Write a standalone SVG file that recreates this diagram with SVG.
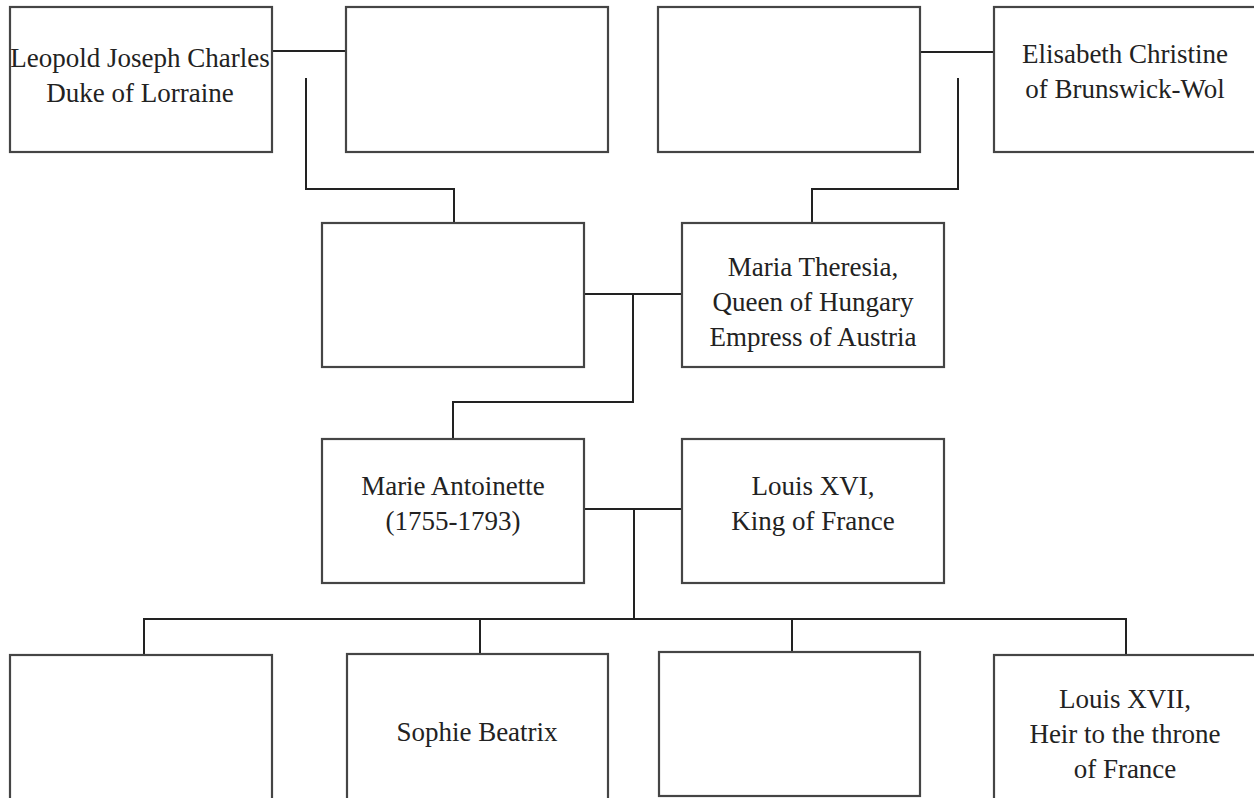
<svg xmlns="http://www.w3.org/2000/svg" width="1254" height="798" viewBox="0 0 1254 798">
  <style>
    .box { fill: #ffffff; stroke: #454545; stroke-width: 2.2; }
    .lbl { font-family: "Liberation Serif", "Times New Roman", serif; font-size: 27px; fill: #222222; text-anchor: middle; }
    .conn { fill: none; stroke: #222222; stroke-width: 2; }
  </style>
  <rect x="0" y="0" width="1254" height="798" fill="#ffffff"/>

  <g id="connectors">
    <path class="conn" d="M272 51 H346"/>
    <path class="conn" d="M306 78 V189 H454 V223"/>
    <path class="conn" d="M920 52 H994"/>
    <path class="conn" d="M958 78 V189 H812 V223"/>
    <path class="conn" d="M584 294 H682"/>
    <path class="conn" d="M633 294 V402 H453 V439"/>
    <path class="conn" d="M584 509 H682"/>
    <path class="conn" d="M634 509 V619"/>
    <path class="conn" d="M144 655 V619 H1126 V655"/>
    <path class="conn" d="M480 619 V654"/>
    <path class="conn" d="M792 619 V652"/>
  </g>

  <g id="leopold">
    <rect class="box" x="10" y="7" width="262" height="145"/>
    <text class="lbl" x="140" y="67">Leopold Joseph Charles</text>
    <text class="lbl" x="140" y="102">Duke of Lorraine</text>
  </g>
  <g id="spouse-leopold">
    <rect class="box" x="346" y="7" width="262" height="145"/>
  </g>
  <g id="father-elisabeth">
    <rect class="box" x="658" y="7" width="262" height="145"/>
  </g>
  <g id="elisabeth">
    <rect class="box" x="994" y="7" width="262" height="145"/>
    <text class="lbl" x="1125" y="63">Elisabeth Christine</text>
    <text class="lbl" x="1125" y="98">of Brunswick-Wol</text>
  </g>

  <g id="francis">
    <rect class="box" x="322" y="223" width="262" height="144"/>
  </g>
  <g id="maria-theresia">
    <rect class="box" x="682" y="223" width="262" height="144"/>
    <text class="lbl" x="813" y="276">Maria Theresia,</text>
    <text class="lbl" x="813" y="311">Queen of Hungary</text>
    <text class="lbl" x="813" y="346">Empress of Austria</text>
  </g>

  <g id="marie-antoinette">
    <rect class="box" x="322" y="439" width="262" height="144"/>
    <text class="lbl" x="453" y="495">Marie Antoinette</text>
    <text class="lbl" x="453" y="530">(1755-1793)</text>
  </g>
  <g id="louis-xvi">
    <rect class="box" x="682" y="439" width="262" height="144"/>
    <text class="lbl" x="813" y="495">Louis XVI,</text>
    <text class="lbl" x="813" y="530">King of France</text>
  </g>

  <g id="child-1">
    <rect class="box" x="10" y="655" width="262" height="160"/>
  </g>
  <g id="sophie-beatrix">
    <rect class="box" x="347" y="654" width="261" height="160"/>
    <text class="lbl" x="477" y="741">Sophie Beatrix</text>
  </g>
  <g id="child-3">
    <rect class="box" x="659" y="652" width="261" height="144"/>
  </g>
  <g id="louis-xvii">
    <rect class="box" x="994" y="655" width="262" height="160"/>
    <text class="lbl" x="1125" y="708">Louis XVII,</text>
    <text class="lbl" x="1125" y="743">Heir to the throne</text>
    <text class="lbl" x="1125" y="778">of France</text>
  </g>
</svg>
